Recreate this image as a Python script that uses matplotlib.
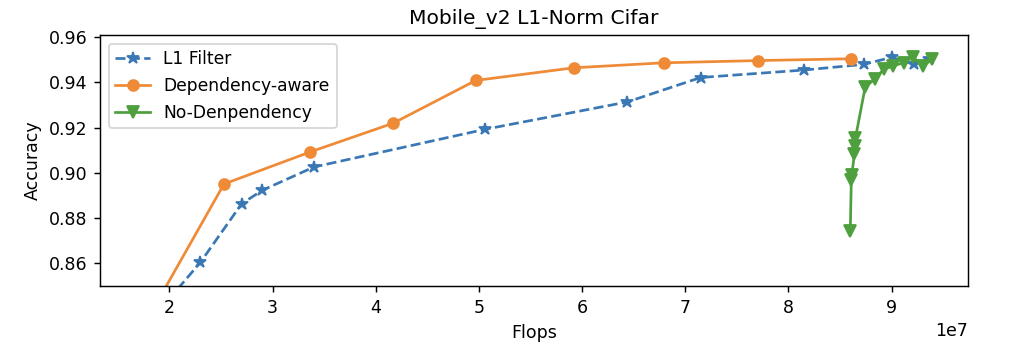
import matplotlib
matplotlib.use("Agg")
import matplotlib.pyplot as plt

# flops (x1e7) and accuracy
l1_flops = [1.90, 2.30, 2.70, 2.90, 3.40, 5.06, 6.44, 7.15, 8.15, 8.73, 9.00, 9.22, 9.36]
l1_acc = [0.839, 0.8604, 0.8863, 0.8923, 0.9026, 0.9193, 0.9314, 0.9422, 0.9455, 0.9480, 0.9511, 0.9480, 0.9506]

dep_flops = [1.71, 2.53, 3.36, 4.17, 4.97, 5.92, 6.79, 7.71, 8.61]
dep_acc = [0.829, 0.8951, 0.9092, 0.9220, 0.9409, 0.9465, 0.9487, 0.9497, 0.9505]

nodep_flops = [8.60, 8.61, 8.615, 8.64, 8.645, 8.65, 8.745, 8.836, 8.923, 9.01, 9.117, 9.208, 9.302, 9.393]
nodep_acc = [0.8742, 0.8970, 0.8990, 0.9085, 0.9120, 0.9154, 0.9381, 0.9414, 0.9458, 0.9472, 0.9488, 0.9513, 0.9472, 0.9502]

plt.rcParams["font.size"] = 9.6

fig = plt.figure(figsize=(1014 / 130, 360 / 130), dpi=130)
ax = fig.add_axes([100 / 1014, 1 - 286 / 360, 868 / 1014, 251 / 360])

ax.plot([f * 1e7 for f in l1_flops], l1_acc, "--", marker="*", color="#3a78b5", markersize=7, label="L1 Filter")
ax.plot([f * 1e7 for f in dep_flops], dep_acc, "-", marker="o", color="#ef8a36", label="Dependency-aware")
ax.plot([f * 1e7 for f in nodep_flops], nodep_acc, "-", marker="v", color="#4e9f3d", markersize=7, label="No-Denpendency")

ax.set_xlim(1.328e7, 9.741e7)
ax.set_ylim(0.85, 0.961)
ax.set_xlabel("Flops")
ax.set_ylabel("Accuracy")
ax.set_title("Mobile_v2 L1-Norm Cifar", fontsize=11.2)
ax.legend(loc="upper left", fontsize=9.5)

fig.savefig("out.png", dpi=130)
